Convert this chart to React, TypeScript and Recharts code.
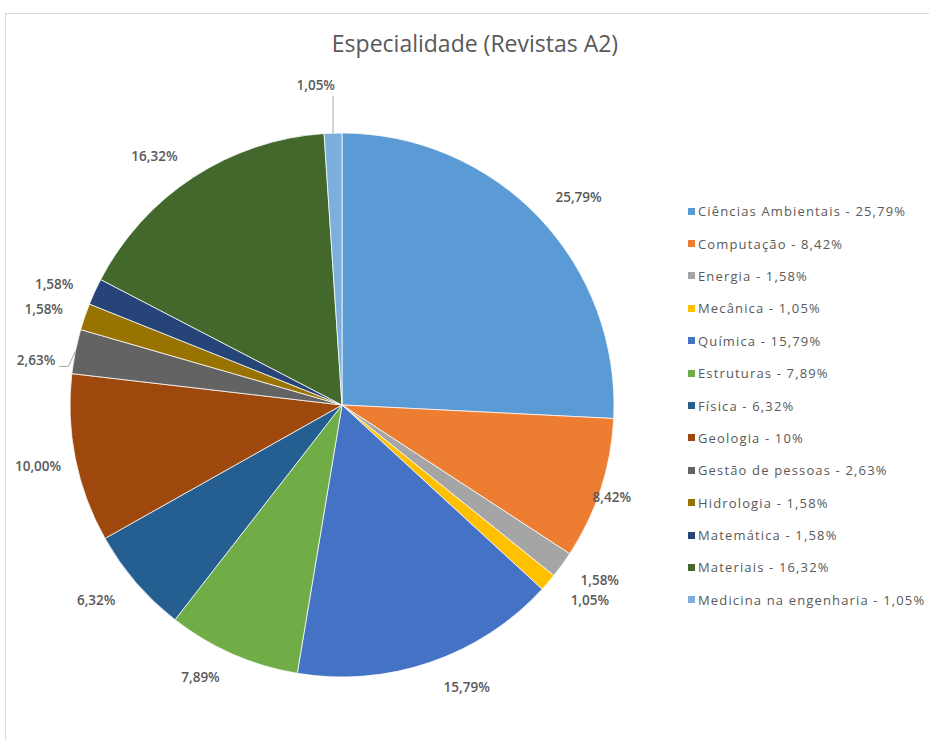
import { Pie, PieChart, Cell } from "recharts";

const categories = [
  "Ciências Ambientais",
  "Computação",
  "Energia",
  "Mecânica",
  "Química",
  "Estruturas",
  "Física",
  "Geologia",
  "Gestão de pessoas",
  "Hidrologia",
  "Matemática",
  "Materiais",
  "Medicina na engenharia",
];

const shares = [25.79, 8.42, 1.58, 1.05, 15.79, 7.89, 6.32, 10, 2.63, 1.58, 1.58, 16.32, 1.05];

// legend text as written in the source (Geologia shows "10%")
const legendValues = ["25,79%", "8,42%", "1,58%", "1,05%", "15,79%", "7,89%", "6,32%", "10%", "2,63%", "1,58%", "1,58%", "16,32%", "1,05%"];

const colors = [
  "#5b9bd5", "#ed7d31", "#a5a5a5", "#ffc000", "#4472c4", "#70ad47", "#255e91",
  "#9e480e", "#636363", "#997300", "#264478", "#43682b", "#7cafdd",
];

const data = categories.map((name, i) => ({ name, value: shares[i] }));

// small per-label shifts to mimic Excel's "best fit" label placement
const labelNudge: Record<number, [number, number]> = {
  0: [12, 6],
  1: [-25, -4],
  2: [7, -7],
  3: [13, -7],
  4: [24, -11],
  5: [-17, -12],
  6: [-11, -7],
  7: [0, 0],
  9: [-5, 5],
  10: [-6, 8],
  11: [-18, 11],
};

const RAD = Math.PI / 180;
const LABEL_FILL = "#595959";
const LINE_STROKE = "#a6a6a6";

function fmt(v: number) {
  return v.toFixed(2).replace(".", ",") + "%";
}

function renderLabel(props: any) {
  const { cx, cy, midAngle, outerRadius, index, value } = props;
  const cos = Math.cos(-midAngle * RAD);
  const sin = Math.sin(-midAngle * RAD);
  const text = fmt(value);
  const style = { fontFamily: "'Open Sans', sans-serif", fontSize: 13.5, fontWeight: 600 };

  if (index === 12) {
    const ex = cx + outerRadius * cos;
    const ey = cy + outerRadius * sin;
    const ty = ey - 37;
    return (
      <g>
        <line x1={ex} y1={ey} x2={ex} y2={ty} stroke={LINE_STROKE} strokeWidth={1} />
        <text x={ex + 2} y={ty - 6} textAnchor="end" fill={LABEL_FILL} style={style}>
          {text}
        </text>
      </g>
    );
  }
  if (index === 8) {
    const ex = cx + outerRadius * cos;
    const ey = cy + outerRadius * sin;
    const my = ey + 15;
    return (
      <g>
        <polyline
          points={`${ex},${ey} ${ex - 7},${my} ${ex - 16},${my}`}
          fill="none"
          stroke={LINE_STROKE}
          strokeWidth={1}
        />
        <text x={ex - 20} y={my} dy={-1} textAnchor="end" fill={LABEL_FILL} style={style}>
          {text}
        </text>
      </g>
    );
  }
  const R = outerRadius + 38;
  const [nx, ny] = labelNudge[index] || [0, 0];
  return (
    <text
      x={cx + R * cos + nx}
      y={cy + R * sin + ny}
      textAnchor="middle"
      dominantBaseline="central"
      fill={LABEL_FILL}
      style={style}
    >
      {text}
    </text>
  );
}

function LegendList() {
  return (
    <div
      style={{
        position: "absolute",
        left: 688,
        top: 195,
        fontFamily: "'Open Sans', sans-serif",
        fontSize: 13,
        letterSpacing: 1.15,
        color: "#595959",
      }}
    >
      {categories.map((c, i) => (
        <div key={c} style={{ display: "flex", alignItems: "center", height: 32.4 }}>
          <span
            style={{ width: 7, height: 7, background: colors[i], display: "inline-block", marginRight: 3 }}
          />
          <span style={{ whiteSpace: "nowrap" }}>{`${c} - ${legendValues[i]}`}</span>
        </div>
      ))}
    </div>
  );
}

export default function App() {
  return (
    <div style={{ position: "absolute", left: 0, top: 0, width: 929, height: 740, background: "#fff", overflow: "hidden" }}>
      <div
        style={{
          position: "absolute",
          left: 5,
          top: 13,
          width: 940,
          height: 760,
          border: "1px solid #d9d9d9",
          boxSizing: "border-box",
        }}
      />
      <div
        style={{
          position: "absolute",
          left: 0,
          width: 950,
          top: 27,
          textAlign: "center",
          fontFamily: "'Open Sans', sans-serif",
          fontSize: 23,
          color: "#595959",
        }}
      >
        Especialidade (Revistas A2)
      </div>
      <div style={{ position: "absolute", left: 0, top: 0 }}>
        <PieChart width={929} height={740} margin={{ top: 0, right: 0, bottom: 0, left: 0 }}>
          <Pie
            data={data}
            dataKey="value"
            nameKey="name"
            cx={342}
            cy={405}
            outerRadius={272}
            startAngle={90}
            endAngle={-270}
            stroke="#ffffff"
            strokeWidth={0.75}
            label={renderLabel}
            labelLine={false}
            isAnimationActive={false}
          >
            {data.map((d, i) => (
              <Cell key={d.name} fill={colors[i]} />
            ))}
          </Pie>
        </PieChart>
      </div>
      <LegendList />
    </div>
  );
}
